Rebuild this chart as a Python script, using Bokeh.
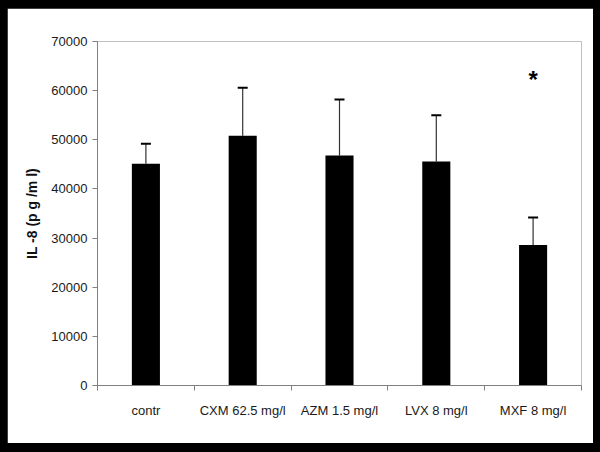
from bokeh.plotting import figure
from bokeh.models import ColumnDataSource, FixedTicker, Range1d, Whisker, TeeHead
from bokeh.layouts import column
from bokeh.core.properties import value
from bokeh.embed import file_html
from bokeh.resources import INLINE

categories = ["contr", "CXM 62.5 mg/l", "AZM 1.5 mg/l", "LVX 8 mg/l", "MXF 8 mg/l"]
means = [45100, 50800, 46800, 45600, 28600]
upper = [49200, 60600, 58200, 55000, 34200]
y_ticks = [0, 10000, 20000, 30000, 40000, 50000, 60000, 70000]
sig_index = 4
sig_mark = "*"
sig_y = 62200

xs = [i + 0.5 for i in range(len(categories))]
src = ColumnDataSource(dict(x=xs, mean=means, upper=upper))

p = figure(output_backend="svg", toolbar_location=None,
           frame_width=484, frame_height=344,
           min_border_left=90, min_border_right=12,
           min_border_top=33, min_border_bottom=58,
           x_range=Range1d(0, len(categories)), y_range=Range1d(0, 70000),
           background_fill_color="white", border_fill_color="white")
p.outline_line_color = None
p.grid.visible = False
p.margin = (8, 7, 9, 7)

p.vbar(x="x", top="mean", bottom=0, width=0.29, source=src,
       fill_color="black", line_color=None)

w = Whisker(source=src, base="x", upper="upper", lower="mean",
            upper_head=TeeHead(size=10, line_color="black", line_width=2),
            lower_head=None, line_color="#333333", line_width=1.2)
p.add_layout(w)

p.text(x=[xs[sig_index]], y=[sig_y], text=[sig_mark], text_align="center",
       text_baseline="alphabetic", text_font=value("Liberation Sans"),
       text_font_size="24px", text_font_style="bold", text_color="black")

# y axis
ya = p.yaxis[0]
ya.ticker = FixedTicker(ticks=y_ticks)
ya.axis_line_color = "#808080"
ya.major_tick_line_color = "#808080"
ya.major_tick_out = 5
ya.major_tick_in = 0
ya.minor_tick_line_color = None
ya.major_label_standoff = 5
ya.major_label_text_font = "Liberation Sans"
ya.major_label_text_font_size = "13px"
ya.major_label_text_color = "#1a1a1a"
ya.axis_label = "IL -8 (p g /m l)"
ya.axis_label_text_font = "Liberation Sans"
ya.axis_label_text_font_size = "14px"
ya.axis_label_text_font_style = "bold"
ya.axis_label_text_color = "#111111"
ya.axis_label_standoff = 8
ya.formatter.use_scientific = False

# x axis
xa = p.xaxis[0]
xa.ticker = FixedTicker(ticks=xs, minor_ticks=list(range(len(categories) + 1)))
xa.major_label_overrides = {x: c for x, c in zip(xs, categories)}
xa.axis_line_color = "#808080"
xa.major_tick_line_color = None
xa.major_tick_out = 0
xa.major_tick_in = 0
xa.minor_tick_line_color = "#808080"
xa.minor_tick_out = 5
xa.minor_tick_in = 0
xa.major_label_standoff = 12
xa.major_label_text_font = "Liberation Sans"
xa.major_label_text_font_size = "13px"
xa.major_label_text_color = "#1a1a1a"

layout = column(p, styles={"background-color": "black"})

open("out.html", "w").write(file_html(layout, INLINE))
